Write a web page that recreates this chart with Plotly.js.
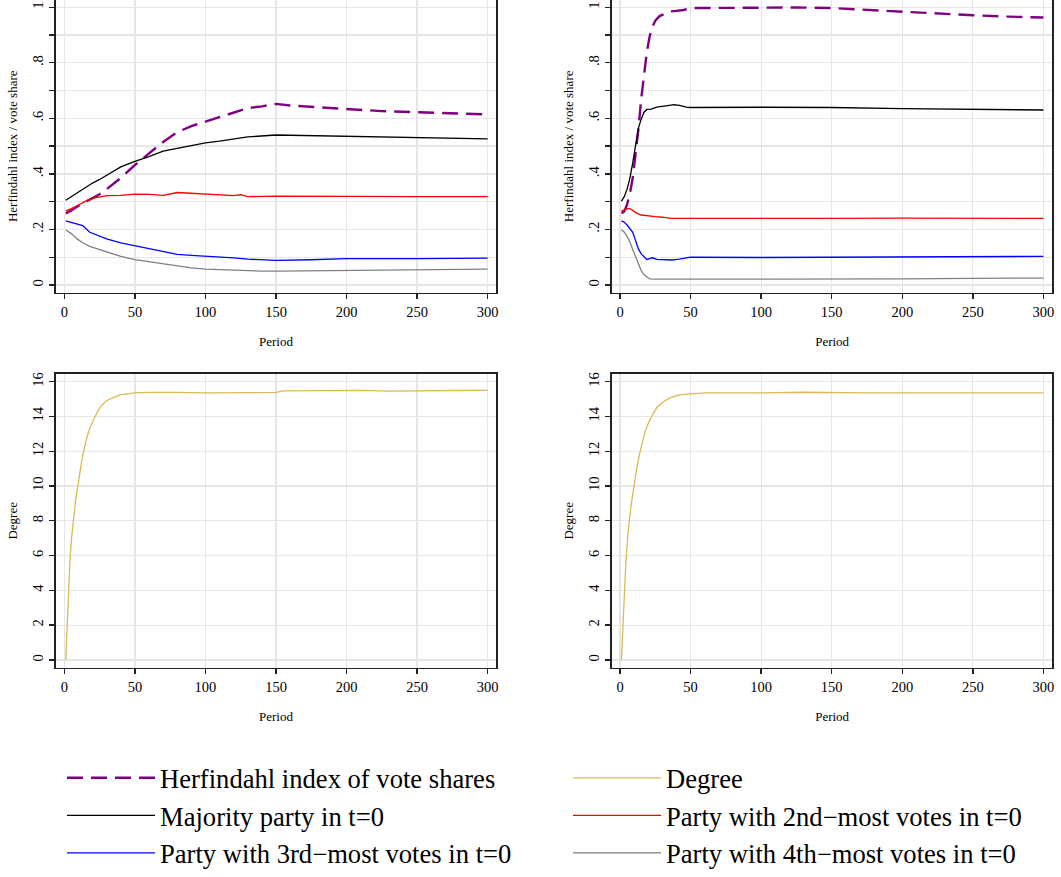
<!DOCTYPE html>
<html>
<head>
<meta charset="utf-8">
<script src="https://cdn.plot.ly/plotly-3.0.1.min.js"></script>
<style>
  html, body { margin: 0; padding: 0; background: #fff; }
  #chart { width: 1061px; height: 877px; }
</style>
</head>
<body>
<div id="chart"></div>
<script>
// ---------- DATA ----------
// Top-left panel
const tlHerfT = [1,5,10,15,20,25,30,40,50,60,70,80,90,100,110,120,130,140,150,160,175,200,225,250,275,300];
const tlHerfV = [0.258,0.268,0.285,0.298,0.312,0.327,0.345,0.385,0.432,0.472,0.515,0.550,0.572,0.588,0.605,0.622,0.637,0.643,0.652,0.646,0.641,0.634,0.626,0.622,0.618,0.614];
const tlMajT = [1,5,10,15,20,25,30,40,50,60,70,80,90,100,110,120,130,150,175,200,250,300];
const tlMajV = [0.305,0.318,0.335,0.350,0.367,0.380,0.395,0.425,0.445,0.462,0.482,0.492,0.500,0.512,0.518,0.525,0.533,0.540,0.538,0.534,0.531,0.526];
const tlSecT = [1,5,10,15,20,25,30,40,50,60,70,80,90,100,110,120,125,130,150,200,250,300];
const tlSecV = [0.267,0.275,0.288,0.302,0.312,0.318,0.322,0.323,0.327,0.326,0.323,0.333,0.330,0.327,0.326,0.322,0.325,0.318,0.320,0.318,0.318,0.318];
const tlThiT = [1,5,10,13,18,25,30,40,50,60,70,80,90,100,110,120,130,150,175,200,250,300];
const tlThiV = [0.231,0.226,0.218,0.214,0.190,0.175,0.166,0.152,0.142,0.132,0.120,0.110,0.107,0.104,0.103,0.098,0.093,0.089,0.091,0.095,0.095,0.097];
const tlFouT = [1,5,9,13,18,25,30,40,50,60,70,80,90,100,110,125,140,150,175,200,250,300];
const tlFouV = [0.198,0.185,0.166,0.152,0.139,0.127,0.118,0.103,0.091,0.084,0.075,0.068,0.062,0.057,0.055,0.053,0.050,0.050,0.051,0.053,0.056,0.057];

// Top-right panel
const trHerfT = [1,3,5,7,9,11,13,15,17,19,21,23,25,28,32,36,40,45,50,75,100,125,150,175,200,225,250,275,300];
const trHerfV = [0.258,0.265,0.290,0.330,0.385,0.470,0.560,0.670,0.760,0.840,0.895,0.930,0.952,0.968,0.977,0.985,0.987,0.990,0.997,0.998,1.000,0.999,0.997,0.990,0.984,0.977,0.971,0.966,0.963];
const trMajT = [1,3,5,7,9,11,13,15,17,19,22,26,30,35,38,42,47,50,100,150,200,250,300];
const trMajV = [0.302,0.318,0.345,0.385,0.440,0.510,0.565,0.597,0.622,0.632,0.633,0.640,0.642,0.647,0.649,0.647,0.640,0.639,0.640,0.639,0.635,0.632,0.630];
const trSecT = [1,3,6,8,10,12,15,19,25,30,36,50,100,150,200,250,300];
const trSecV = [0.267,0.270,0.276,0.272,0.265,0.258,0.252,0.249,0.246,0.244,0.240,0.240,0.239,0.240,0.241,0.241,0.240];
const trThiT = [1,3,5,7,9,11,13,15,17,19,21,23,26,30,37,42,47,50,100,150,200,250,300];
const trThiV = [0.231,0.226,0.216,0.205,0.190,0.160,0.130,0.112,0.100,0.092,0.095,0.098,0.092,0.091,0.090,0.093,0.099,0.100,0.099,0.100,0.101,0.102,0.103];
const trFouT = [1,3,5,7,9,11,13,15,17,19,21,25,50,100,150,200,250,300];
const trFouV = [0.199,0.190,0.175,0.155,0.128,0.100,0.075,0.052,0.037,0.028,0.022,0.021,0.021,0.020,0.020,0.022,0.024,0.025];

// Bottom panels: degree
const blDegT = [1,2,3,4,5,6,8,10,12,14,16,18,20,23,26,30,35,40,45,50,60,70,80,100,120,140,150,155,175,200,210,230,250,275,300];
const blDegV = [0,2.2,4.2,5.7,6.9,7.8,9.2,10.2,11.3,12.1,12.8,13.3,13.7,14.2,14.6,14.9,15.1,15.25,15.3,15.35,15.38,15.4,15.38,15.36,15.36,15.37,15.38,15.47,15.48,15.48,15.5,15.45,15.48,15.49,15.5];
const brDegT = [1,2,3,4,5,6,8,10,12,14,16,18,20,23,26,30,35,40,45,50,60,80,100,130,150,175,200,225,250,275,290,300];
const brDegV = [0,2.0,3.9,5.4,6.6,7.6,9.0,10.1,11.1,11.9,12.6,13.2,13.6,14.1,14.5,14.8,15.05,15.2,15.27,15.3,15.35,15.36,15.35,15.39,15.36,15.35,15.36,15.36,15.35,15.37,15.39,15.36];

const xTicks = [0,50,100,150,200,250,300];
const shareTicks = [0,0.1,0.2,0.3,0.4,0.5,0.6,0.7,0.8,0.9,1];
const shareTickText = ['0','','.2','','.4','','.6','','.8','','1'];
const degreeTicks = [0,2,4,6,8,10,12,14,16];

const names = {
  herf: 'Herfindahl index of vote shares',
  deg: 'Degree',
  maj: 'Majority party in t=0',
  sec: 'Party with 2nd\u2212most votes in t=0',
  thi: 'Party with 3rd\u2212most votes in t=0',
  fou: 'Party with 4th\u2212most votes in t=0'
};

// ---------- STYLE ----------
const FONT = 'Liberation Serif';
const C = {
  herf: 'rgb(128,0,128)', maj: 'rgb(0,0,0)', sec: 'rgb(255,0,0)',
  thi: 'rgb(0,0,255)', fou: 'rgb(128,128,128)', deg: 'rgb(218,186,84)'
};

function tr(x, y, key, xa, ya, show, legendId, rank) {
  const isHerf = key === 'herf';
  return {
    type: 'scatter', mode: 'lines', x: x, y: y, name: names[key],
    xaxis: xa, yaxis: ya, showlegend: show, legend: legendId, legendrank: rank,
    line: { color: C[key], width: isHerf ? 2.4 : 1.3, dash: isHerf ? '16px,8px' : 'solid' },
    hoverinfo: 'skip'
  };
}

const data = [
  tr(tlHerfT, tlHerfV, 'herf', 'x', 'y', true, 'legend', 1),
  tr(tlMajT, tlMajV, 'maj', 'x', 'y', true, 'legend', 2),
  tr(tlSecT, tlSecV, 'sec', 'x', 'y', true, 'legend2', 2),
  tr(tlThiT, tlThiV, 'thi', 'x', 'y', true, 'legend', 3),
  tr(tlFouT, tlFouV, 'fou', 'x', 'y', true, 'legend2', 3),
  tr(trHerfT, trHerfV, 'herf', 'x2', 'y2', false, 'legend', 10),
  tr(trMajT, trMajV, 'maj', 'x2', 'y2', false, 'legend', 10),
  tr(trSecT, trSecV, 'sec', 'x2', 'y2', false, 'legend', 10),
  tr(trThiT, trThiV, 'thi', 'x2', 'y2', false, 'legend', 10),
  tr(trFouT, trFouV, 'fou', 'x2', 'y2', false, 'legend', 10),
  tr(blDegT, blDegV, 'deg', 'x3', 'y3', true, 'legend2', 1),
  tr(brDegT, brDegV, 'deg', 'x4', 'y4', false, 'legend', 10)
];

const W = 1061, H = 877;
const px = v => v / W;
const py = v => 1 - v / H;

function xAxis(domain, range, anchor, mirror) {
  return {
    domain: domain, range: range, anchor: anchor,
    tickmode: 'array', tickvals: xTicks, ticktext: xTicks.map(String),
    ticks: 'outside', ticklen: 5, tickwidth: 1.4, tickcolor: '#222',
    showline: true, linecolor: '#222', linewidth: 1.8, mirror: mirror,
    showgrid: true, gridcolor: 'rgb(230,230,230)', gridwidth: 1.3,
    zeroline: false, tickfont: { family: FONT, size: 14.5, color: '#000' },
    title: { text: 'Period', font: { family: FONT, size: 13, color: '#000' }, standoff: 18 },
    automargin: false, fixedrange: true
  };
}
function yAxis(domain, range, anchor, vals, text, title) {
  return {
    domain: domain, range: range, anchor: anchor,
    tickmode: 'array', tickvals: vals, ticktext: text, tickangle: -90,
    ticks: 'outside', ticklen: 5, tickwidth: 1.4, tickcolor: '#222',
    showline: true, linecolor: '#222', linewidth: 1.8, mirror: true,
    showgrid: true, gridcolor: 'rgb(230,230,230)', gridwidth: 1.3,
    zeroline: false, tickfont: { family: FONT, size: 14.5, color: '#000' },
    title: { text: title, font: { family: FONT, size: 13, color: '#000' }, standoff: 10 },
    automargin: false, fixedrange: true
  };
}

const dTL = [px(56), px(496)], dTR = [px(612), px(1052.3)];
const dTop = [py(296), 1], dBot = [py(675.3), py(378.3)];
const xrL = [-5.9, 305.9], xrR = [-5.7, 306.3];
const yrTop = [-0.0274, 1.026], yrBot = [-0.44, 16.44];

const legendStyle = (x) => ({
  orientation: 'v', x: x, y: py(763), xanchor: 'left', yanchor: 'top',
  traceorder: 'normal',
  font: { family: FONT, size: 26.6, color: '#000' },
  bgcolor: 'rgba(0,0,0,0)', borderwidth: 0, itemwidth: 88
});

const layout = {
  width: W, height: H,
  margin: { l: 0, r: 0, t: 0, b: 0 },
  paper_bgcolor: '#fff', plot_bgcolor: '#fff',
  font: { family: FONT, color: '#000' },
  xaxis: xAxis(dTL, xrL, 'y', false),
  yaxis: yAxis(dTop, yrTop, 'x', shareTicks, shareTickText, 'Herfindahl index / vote share'),
  xaxis2: xAxis(dTR, xrR, 'y2', false),
  yaxis2: yAxis(dTop, yrTop, 'x2', shareTicks, shareTickText, 'Herfindahl index / vote share'),
  xaxis3: xAxis(dTL, xrL, 'y3', true),
  yaxis3: yAxis(dBot, yrBot, 'x3', degreeTicks, degreeTicks.map(String), 'Degree'),
  xaxis4: xAxis(dTR, xrR, 'y4', true),
  yaxis4: yAxis(dBot, yrBot, 'x4', degreeTicks, degreeTicks.map(String), 'Degree'),
  showlegend: true,
  legend: legendStyle(px(62)),
  legend2: legendStyle(px(568))
};

Plotly.newPlot('chart', data, layout, { displayModeBar: false, staticPlot: true });
</script>
</body>
</html>
